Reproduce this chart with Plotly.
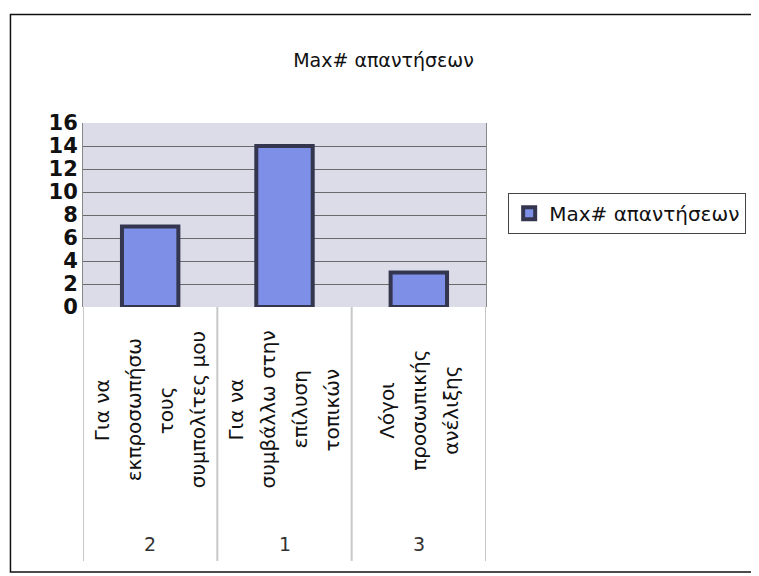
import plotly.graph_objects as go

# Datos
kodikoi = ["2", "1", "3"]
logoi = [
    ["Για να", "εκπροσωπήσω", "τους", "συμπολίτες μου"],
    ["Για να", "συμβάλλω στην", "επίλυση", "τοπικών"],
    ["Λόγοι", "προσωπικής", "ανέλιξης"],
]
max_apantiseon = [7, 14, 3]
seira = "Max# απαντήσεων"
y_ticks = list(range(0, 17, 2))

FONT = "DejaVu Sans, Arial"

fig = go.Figure()
fig.add_trace(go.Bar(
    x=kodikoi,
    y=max_apantiseon,
    name=seira,
    marker_color="#7d8fe6",
    marker_line_color="#34364f",
    marker_line_width=4,
    showlegend=True,
))

# etiquetas del eje x (texto rotado, una linea por anotacion)
# en eje de categorias "2","1","3" se leen como indices, asi que uso la posicion
for pos, (k, lineas) in enumerate(zip(kodikoi, logoi)):
    n = len(lineas)
    for i, t in enumerate(lineas):
        fig.add_annotation(
            x=pos, y=-0.56, xref="x", yref="paper",
            text=t, textangle=-90, showarrow=False,
            xanchor="center", yanchor="middle",
            xshift=(i - (n - 1) / 2) * 32,
            font=dict(size=20, color="#111111"),
        )
    fig.add_annotation(
        x=pos, y=-1.29, xref="x", yref="paper",
        text=k, showarrow=False, yanchor="middle",
        font=dict(size=19, color="#333333"),
    )

# separadores entre categorias
for xs in [-0.5, 0.5, 1.5, 2.5]:
    fig.add_shape(type="line", xref="x", yref="paper",
                  x0=xs, x1=xs, y0=0, y1=-1.38,
                  line=dict(color="#c8c8c8", width=2))

# marco exterior
fig.add_shape(type="rect", xref="paper", yref="paper",
              x0=-0.18, x1=1.68, y0=-1.44, y1=1.59,
              line=dict(color="#111111", width=1.5))

# la pagina html tiene 8px de margen, por eso 751x568
fig.update_layout(
    width=751, height=568,
    margin=dict(l=75, r=273, t=115, b=269),
    paper_bgcolor="white",
    plot_bgcolor="#dcdce9",
    font=dict(family=FONT, color="#111111"),
    title=dict(text=seira, x=0.5, xref="container", xanchor="center",
               y=0.908, yref="container", yanchor="middle",
               font=dict(size=19, color="#111111")),
    bargap=0.58,
    xaxis=dict(type="category", range=[-0.5, 2.5], showticklabels=False,
               showgrid=False, zeroline=False, showline=False),
    yaxis=dict(range=[0, 16], tickvals=y_ticks, showgrid=True,
               gridcolor="#6a6a6a", gridwidth=1, zeroline=False,
               showline=True, linecolor="#888888", mirror=True,
               tickfont=dict(size=21, color="#111111", weight="bold"),
               ticklen=0, ticks=""),
    legend=dict(x=1.055, y=0.51, xanchor="left", yanchor="middle",
                bordercolor="#444444", borderwidth=1,
                font=dict(size=20, color="#111111"),
                itemwidth=30),
)

fig.write_html("out.html")
